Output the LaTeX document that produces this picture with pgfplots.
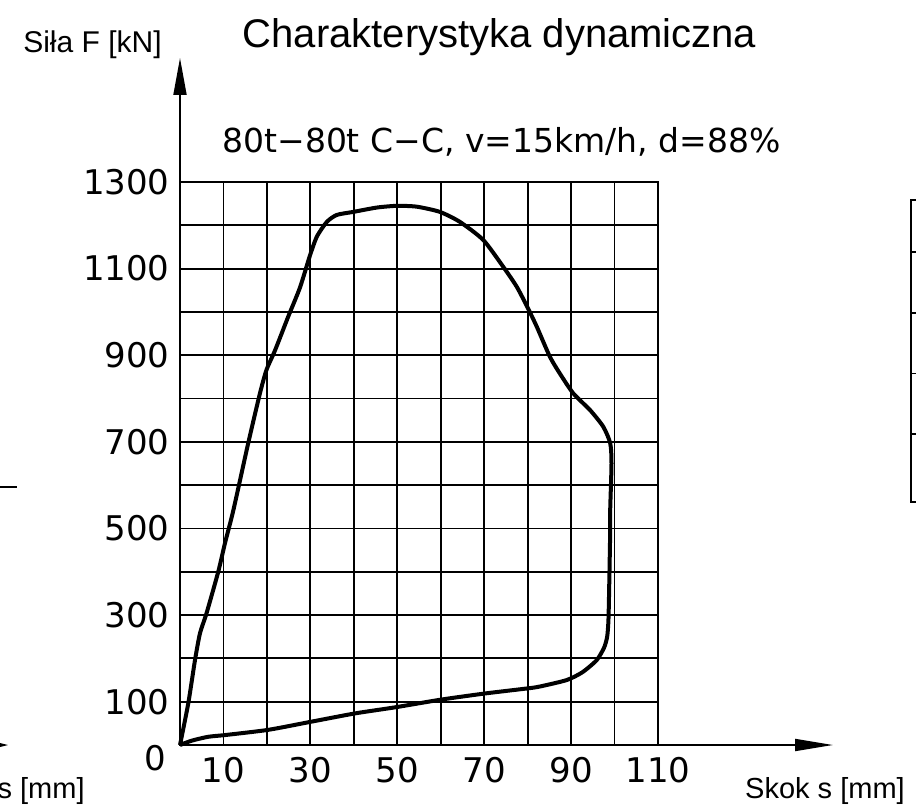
\documentclass[border=0pt]{standalone}
\usepackage{fontspec}
\setmainfont{DejaVu Sans}
\newfontfamily\lib{Liberation Sans}
\usepackage{pgfplots}
\pgfplotsset{compat=1.18}
\usetikzlibrary{arrows.meta}
\begin{document}
\begin{tikzpicture}
\useasboundingbox (-90pt,-30pt) rectangle (368pt,372.5pt);
\begin{axis}[
  at={(0pt,0pt)}, anchor=south west,
  scale only axis, width=239pt, height=281.5pt,
  xmin=0, xmax=110, ymin=0, ymax=1300,
  xtick={0,10,...,110}, ytick={0,100,...,1300},
  xticklabels={{},10,{},30,{},50,{},70,{},90,{},110},
  yticklabels={{},100,{},300,{},500,{},700,{},900,{},1100,{},1300},
  grid=major, major grid style={black, line width=0.9pt},
  axis line style={line width=0.9pt},
  major tick length=0pt,
  ticklabel style={font=\fontsize{17}{17}\selectfont, inner sep=0pt},
  xticklabel style={anchor=north, yshift=-6pt},
  yticklabel style={anchor=east, xshift=-5pt},
  clip=false,
]
\addplot[black, line width=2pt, smooth, tension=0.4] coordinates {
(0,0) (1.9,96) (3.45,196) (4.6,258) (6.1,304) (8.8,400) (10.35,466)
(12.3,543) (15.7,697) (18.4,812) (19.9,866) (21.9,912) (24.9,989)
(27.6,1056) (29.9,1130) (31.5,1174) (33.8,1208) (36.1,1224) (39.9,1231)
(45.3,1241) (49.9,1245) (54.5,1243) (59.8,1231) (64.4,1208) (69.8,1166)
(74.4,1104) (77.5,1058) (80.0,1010) (82.1,966) (85.1,897) (87.4,858)
(90.5,812) (94.4,773) (97.4,735) (99.0,697) (99.3,650) (99.0,543)
(99.0,496) (98.8,381) (98.6,289) (98.3,250) (97.6,225) (95.9,196)
(92.6,168) (89.0,150) (82.8,135) (80.2,131) (70.2,119) (60.2,105)
(49.5,87) (40.3,73) (30.3,54) (20.3,35) (10.4,23) (6.5,19) (2.7,10) (0,0)
};
\end{axis}
\draw[line width=0.9pt, -{Triangle[length=18.5pt,width=6.5pt]}] (0,0) -- (0,343.5pt);
\draw[line width=0.9pt, -{Triangle[length=19pt,width=6pt]}] (0,0) -- (326.5pt,0);
\node[anchor=north east, inner sep=0pt, font=\fontsize{17}{17}\selectfont] at (-6.5pt,0) {0};
\node[anchor=base, inner sep=0pt, font=\lib\fontsize{20}{20}\selectfont] at (159.75pt,348.5pt) {Charakterystyka dynamiczna};
\node[anchor=base, inner sep=0pt, font=\lib\fontsize{15}{15}\selectfont] at (-43.75pt,346pt) {Siła F [kN]};
\node[anchor=base, inner sep=0pt, font=\fontsize{16.5}{16.5}\selectfont] at (160.75pt,296pt) {80t−80t C−C, v=15km/h, d=88\%};
\node[anchor=base, inner sep=0pt, font=\lib\fontsize{14.5}{14.5}\selectfont] at (322.5pt,-26.5pt) {Skok s [mm]};
\node[anchor=base east, inner sep=0pt, font=\lib\fontsize{14.5}{14.5}\selectfont] at (-47.5pt,-26.5pt) {s [mm]};
\draw[line width=0.9pt] (-90pt,129pt) -- (-81.5pt,129pt);
\fill (-90pt,-1pt) -- (-86pt,0pt) -- (-90pt,1pt) -- cycle;
\draw[line width=0.9pt] (370pt,272.5pt) -- (365.5pt,272.5pt) -- (365.5pt,121.5pt) -- (370pt,121.5pt);
\foreach \yy in {246.7,216.2,185.8,155.5} \draw[line width=0.9pt] (365.5pt,\yy pt) -- (370pt,\yy pt);
\end{tikzpicture}
\end{document}
